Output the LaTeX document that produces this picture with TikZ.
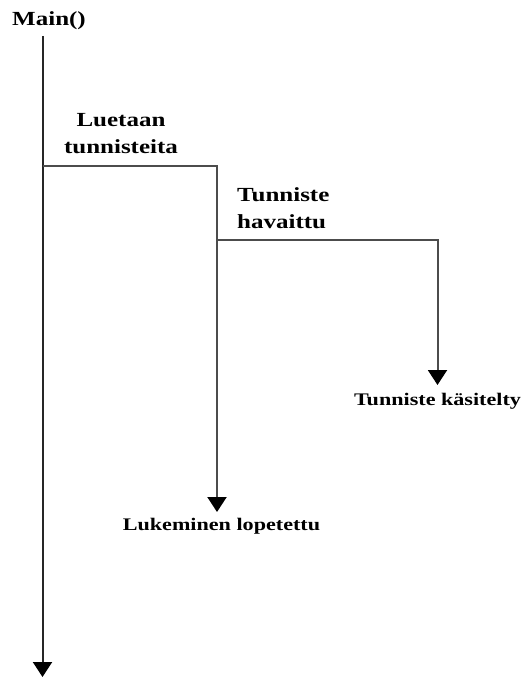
\documentclass[tikz,border=0pt]{standalone}
\usepackage{fontspec}
\setmainfont[FakeStretch=1.25]{Liberation Serif}
\usetikzlibrary{arrows.meta, positioning}

\begin{document}
\begin{tikzpicture}[
  x=1pt, y=-1pt,
  font=\bfseries,
  big/.style  ={inner sep=0pt, align=center, font=\fontsize{20}{27}\selectfont\bfseries},
  small/.style={inner sep=0pt, align=center, font=\fontsize{17.7}{22}\selectfont\bfseries},
  flow/.style ={line width=2pt, draw=black!70},
  arr/.style  ={flow, -{Triangle[length=15pt, width=19pt, color=black]}}
  ]
  \useasboundingbox (0,0) rectangle (524,677);

  % main thread
  \node[big, anchor=base] (main) at (49,26) {Main()};
  \coordinate (mtop) at (42.5,36);
  \coordinate (mend) at (42.5,677);
  \draw[arr, draw=black!85] (mtop) -- (mend);

  % reading thread
  \coordinate (rfork) at (42.5,166);
  \coordinate (rcorner) at (217,166);
  \coordinate (rend) at (217,512);
  \node[big, anchor=north] (read) at (121,113) {Luetaan\\tunnisteita};
  \node[small, anchor=base] (stop) at (221.5,530) {Lukeminen lopetettu};
  \draw[arr] (rfork) -- (rcorner) -- (rend);

  % tag thread
  \coordinate (tfork) at (217,240);
  \coordinate (tcorner) at (437.5,240);
  \coordinate (tend) at (437.5,385);
  \node[big, anchor=north west, align=left] (found) at (237,187) {Tunniste\\havaittu};
  \node[small, anchor=base] (done) at (437.5,405) {Tunniste käsitelty};
  \draw[arr] (tfork) -- (tcorner) -- (tend);

\end{tikzpicture}
\end{document}
